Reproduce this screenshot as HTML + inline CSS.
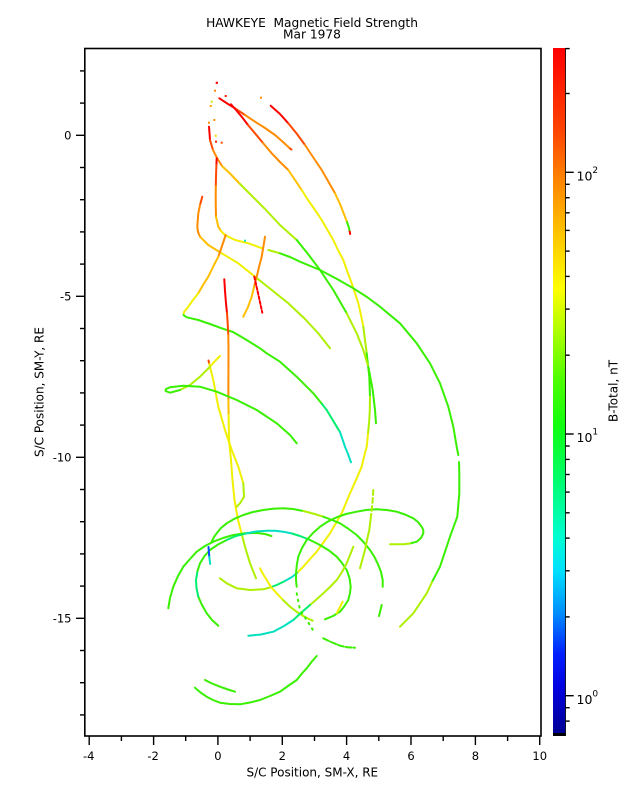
<!DOCTYPE html>
<html><head><meta charset="utf-8"><style>
html,body{margin:0;padding:0;background:#fff}
svg{display:block}
text{font-family:"DejaVu Sans","Liberation Sans",sans-serif;fill:#000}
polyline{fill:none;stroke-width:2.0;stroke-linejoin:round;stroke-linecap:round}
.R{stroke:#ff0000}.RO{stroke:#ff4800}.O{stroke:#ff8c00}.OY{stroke:#ffbe00}.Y{stroke:#f0f000}
.YG{stroke:#aef000}.G{stroke:#38f000}.GC{stroke:#00ee70}.C{stroke:#00e0c0}.B{stroke:#0050ff}
.ax{stroke:#000;stroke-width:1.6;fill:none}
.tk{stroke:#000;stroke-width:1.4}
</style></head><body>
<svg width="637" height="808" viewBox="0 0 637 808" xmlns="http://www.w3.org/2000/svg">
<defs>
<linearGradient id="cb" x1="0" y1="0" x2="0" y2="1">
<stop offset="0" stop-color="#ff0000"/>
<stop offset="0.12" stop-color="#ff4400"/>
<stop offset="0.18" stop-color="#ff7a00"/>
<stop offset="0.27" stop-color="#ffc400"/>
<stop offset="0.35" stop-color="#ffff00"/>
<stop offset="0.41" stop-color="#b0ff00"/>
<stop offset="0.48" stop-color="#50ff00"/>
<stop offset="0.55" stop-color="#10ff10"/>
<stop offset="0.63" stop-color="#00ff70"/>
<stop offset="0.71" stop-color="#00ffd0"/>
<stop offset="0.76" stop-color="#00e0ff"/>
<stop offset="0.82" stop-color="#0090ff"/>
<stop offset="0.88" stop-color="#0020ff"/>
<stop offset="0.93" stop-color="#0000e0"/>
<stop offset="1" stop-color="#000090"/>
</linearGradient>
</defs>

<!-- Title -->
<text x="312" y="27" font-size="12.2" text-anchor="middle">HAWKEYE&#160; Magnetic Field Strength</text>
<text x="312" y="38.5" font-size="12.2" text-anchor="middle">Mar 1978</text>

<!-- Curves -->
<!-- A -->
<polyline class="R" points="270.7,105.7 280,114 288.3,123.3"/>
<polyline class="RO" points="288.3,123.3 297,134 305,145"/>
<polyline class="O" points="305,145 313,157 321.7,170 328,181 335,193.3"/>
<polyline class="OY" points="335,193.3 340,204 345,216.7 347,222"/>
<polyline class="G" points="347,222 349,228 349.7,231.5"/>
<polyline class="R" points="349.7,231.5 350.2,234"/>
<!-- B -->
<polyline class="R" points="219.3,98.3 228,104 235,108.3"/>
<polyline class="RO" points="235,108.3 245,115"/>
<polyline class="O" points="245,115 255,121.7 265,128 275,135 283,142 290,148.5"/>
<polyline class="RO" points="290,148.5 291.5,149.5"/>
<!-- C -->
<polyline class="R" points="231,104.3 236,110 241.7,116.7 248,125"/>
<polyline class="RO" points="248,125 255,133.3 263,143"/>
<polyline class="O" points="263,143 271.7,153.3 280,162 288.3,170"/>
<polyline class="OY" points="288.3,170 295,180 301.7,190"/>
<polyline class="Y" points="301.7,190 308,200 315,210 321.7,220 328,231 333.3,240 338,250 343.3,260 347.5,272 351.7,283.3 355,293 358.3,303.3 361,315 363.3,326.7"/>
<polyline class="YG" points="363.3,326.7 365,340 366.7,353.3"/>
<polyline class="G" points="366.7,353.3 368,365 369.3,376.7 370,396.7"/>
<polyline class="YG" points="370,396.7 369.8,410 369.3,420 368,434"/>
<polyline class="Y" points="368,434 366.7,446.7 364,457 361.7,466.7 356.7,478.3 350,493.3 346,503 341.7,513.3 336,523 330,533.3 323,543 316.7,551.7 310,559 303.3,566.7 297,573"/>
<polyline class="C" points="297,573 292,577 284,581.5"/>
<polyline class="GC" points="284,581.5 276.7,585 270,587.5"/>
<polyline class="YG" points="270,587.5 263.3,589.3 250,590 236.7,588.3 226.7,583.3 220,578.3"/>
<!-- D -->
<polyline class="R" points="209,126.7 209.5,133 210,140"/>
<polyline class="RO" points="210,140 213,150"/>
<polyline class="O" points="213,150 217,158 222,166"/>
<polyline class="OY" points="222,166 230,173.5 240,184"/>
<polyline class="YG" points="240,184 250,194 265,209 280,225 296.7,240"/>
<polyline class="G" points="296.7,240 308,254 320,270 333.3,290 346.7,313.3"/>
<polyline class="YG" points="346.7,313.3 356.7,333.3 363.3,350 368.3,366.7"/>
<polyline class="G" points="368.3,366.7 372.7,390 375,410 376,423.3"/>
<!-- F -->
<polyline class="R" points="216.7,158.3 216.4,165"/>
<polyline class="RO" points="216.4,165 216,176.7 215.8,186"/>
<polyline class="O" points="215.8,186 215.7,196.7 215.8,207 216,216.7"/>
<polyline class="OY" points="216,216.7 218.3,226.7 221,231"/>
<polyline class="Y" points="221,231 225,235 235,240 248.3,243.3 262.3,248.3"/>
<!-- E -->
<polyline class="YG" points="268.3,250 280,253.3"/>
<polyline class="G" points="280,253.3 290,257 300,261.7 320,270 337,279 353.3,288.3 367,297 380,306.7 400,323.3 416.7,343.3 430,363.3 440,383.3 448.3,406.7 453.3,426.7 456.7,446.7 458.3,455"/>
<polyline class="G" points="459,462 459.3,473.3 459.3,493.3 457.3,516.7 450,536.7 440,566.7 432,582"/>
<polyline class="YG" points="432,582 426.7,593.3 413.3,613.3 400,626.7"/>
<!-- G -->
<polyline class="RO" points="202.3,196.7 200,205"/>
<polyline class="O" points="200,205 198.3,213.3 197.3,226.7 198,232 200,236.7"/>
<polyline class="OY" points="200,236.7 208.3,245 221.7,253.3"/>
<polyline class="Y" points="221.7,253.3 238.3,263.3 255,276.7"/>
<polyline class="YG" points="255,276.7 271.7,290 288,303 305,319 318,333 330,348.3"/>
<!-- H -->
<polyline class="O" points="225.7,235 222,246 218.3,256.7"/>
<polyline class="OY" points="218.3,256.7 213,267 208.3,276.7 203,285 198.3,293.3"/>
<polyline class="Y" points="198.3,293.3 193,300 188.3,306.7 184,312 183.5,315"/>
<polyline class="G" points="183.5,315 186.7,317.3 198.3,320 210,324 221.7,328.3 233,332 245,339 260,348.3 266.7,353.3 280,361.7 296.7,376.7 313.3,393.3 322,404"/>
<polyline class="GC" points="322,404 326.7,410 336.7,426.7 340,432"/>
<polyline class="C" points="340,432 345,446.7 348,454 351,462.3"/>
<!-- I -->
<polyline class="O" points="265,236.7 263.5,246 261.7,256.7 259,267 256.7,276.7 254,287"/>
<polyline class="OY" points="254,287 251.7,296.7 248,307 243.3,316.7"/>
<!-- J -->
<polyline class="R" stroke-dasharray="3 2" points="254.3,276.7 258,293 262.3,312.7"/>
<!-- K -->
<polyline class="R" points="224.3,279.3 225,291 226,303.3 227,313"/>
<polyline class="RO" points="227,313 227.7,323.3 228.3,335"/>
<polyline class="O" points="228.3,335 228.5,348.3 228.4,380 228.4,400"/>
<polyline class="OY" points="228.4,400 228.6,415"/>
<polyline class="Y" points="228.6,415 229,440 231,460 232.5,480 234.5,500 238,520 242,535"/>
<polyline class="YG" points="242,535 245,546.7 250,563.3 256,578.3"/>
<!-- L -->
<polyline class="RO" points="208.5,360.5 209.3,364"/>
<polyline class="Y" points="209.3,364 211,371 213.3,380 218.3,406.7 225,430 231.7,450 238.3,466.7 243.3,483.3"/>
<polyline class="YG" points="243.3,483.3 244,496.7 240,503.3 236.7,506.7"/>
<!-- M -->
<polyline class="Y" points="220,356 215,361 210,366.7"/>
<polyline class="YG" points="210,366.7 200,376.7 190,385 180,390"/>
<polyline class="G" points="180,390 170,392.7 165.5,391 166,389 170,387.3 183.3,385.7 200,386.7 216.7,391.7 236.7,400 256.7,410 276.7,423.3 290,435 296.7,443.3"/>
<!-- a -->
<polyline class="G" points="168.3,608.3 170,598 173.3,586.7 178,576 183.3,566.7 190,559 196.7,551.7 205,546 213.3,541.7 223,538 233.3,535 245,533.3 257,533 265,534 271.5,536"/>
<!-- b (beta) -->
<polyline class="G" points="218.3,625.7 212,620 206.7,613.3 202,605 198.3,596.7"/>
<polyline class="GC" points="198.3,596.7 196.5,588 196,580 197.5,571"/>
<polyline class="G" points="197.5,571 200,563.3 204.5,556 210,550 218,544.5 226.7,540"/>
<polyline class="GC" points="226.7,540 236,536 246.7,533.3"/>
<polyline class="C" points="246.7,533.3 256,531.5 266.7,530.7 275,530.7 283.3,531.7 292,533.5"/>
<polyline class="GC" points="292,533.5 300,536 310,540"/>
<polyline class="G" points="310,540 320,545 329,550.5 336.7,556.7 342,563 346.7,570 349.5,578 350.7,586.7 350,593 348.3,600 344.5,606 340,611.7 333,616 325,619.3"/>
<polyline class="B" points="208.5,547 209.3,557"/>
<polyline class="C" points="209.3,557 210.2,564"/>
<!-- c (alpha) -->
<polyline class="G" points="211.7,541.7 214,537 216.7,533.3 221,528 226.7,523.3 234,519 243.3,515 253,512 263.3,510 273,508.8 283.3,508.3 293,509 303.3,511"/>
<polyline class="YG" points="303.3,511 313,513.5 323.3,516.7"/>
<polyline class="G" points="323.3,516.7 332,520 340,523.3 348,528.5 356.7,535 363.5,542 370,550 374.5,557 378.3,565 381,572 382.7,580 382.7,586.7"/>
<polyline class="G" points="381.7,605 379,616"/>
<!-- d (gamma) -->
<polyline class="G" points="296.7,586.7 296,580 296,573.3 296.8,565 298.3,556.7 302,548 306.7,540 313,533 320,526.7 328,521.5 336.7,517.3 346,514 356.7,511.7 366,510 376.7,509.3 387,510 396.7,511.7 405,514.5 413.3,518.3 418,522 421.7,526.7 423.3,530 423.3,533.3 421,538 416.7,541.7 410,543.5"/>
<polyline class="YG" points="410,543.5 403.3,544.3 396,544.3 390,544.3"/>
<!-- f -->
<polyline class="Y" points="260,568.3 263,574 266.7,580 271,587 276.7,593.3 283,600"/>
<polyline class="YG" points="283,600 290,606.7 297,612 303.3,616 308,618.5 312.7,620.7"/>
<!-- g -->
<polyline class="YG" points="353.3,546.7 350,555 346.7,563.3 342,572 336.7,580 330,587 323.3,593.3 317,599 310,605"/>
<polyline class="GC" points="310,605 302,612 293.3,620"/>
<polyline class="C" points="293.3,620 284,626 273.3,631.7 261,634.5 248.3,635.7"/>
<!-- h -->
<polyline class="YG" stroke-dasharray="5 3" points="373.3,490 372.7,500 371.7,510 370.5,520"/>
<polyline class="YG" points="370.5,520 369.3,530 367,540 365,550 362.5,559 360,568.3"/>
<!-- i -->
<polyline class="Y" points="342.7,601.7 339.5,608 336.7,613.3"/>
<!-- k -->
<polyline class="G" stroke-dasharray="6 2" points="323.3,638.3 331,642 340,645.7 347,647.3 355,647.7"/>
<!-- l dotted -->
<polyline class="G" stroke-dasharray="1.5 5" points="296.7,593.3 300,610 306.7,620 315,633.3"/>
<!-- n -->
<polyline class="G" points="316.7,656 311.5,662 306.7,668.3 301.5,674 296.7,680 288,686 280,691.7 270,696 260,700 250,702.5 240,704.3 230,704 220,702.7 213,700 206.7,696.7 200.5,692.5 195,687.7"/>
<!-- o -->
<polyline class="G" points="205,680 212,683.5 220,686.7 228,689.5 235,691.7"/>

<!-- scattered dots near top -->
<rect x="215.7" y="81.7" width="2.2" height="2.2" fill="#ff0000"/>
<rect x="214" y="89.7" width="2" height="2" fill="#ff8c00"/>
<rect x="224.7" y="95" width="2" height="2" fill="#ff2000"/>
<rect x="260" y="96.7" width="2" height="2" fill="#ff8c00"/>
<rect x="210.7" y="100.7" width="2" height="2" fill="#c0f000"/>
<rect x="209.7" y="105" width="2" height="2" fill="#ffa000"/>
<rect x="213.3" y="119" width="2" height="2" fill="#ff9000"/>
<rect x="208" y="121.7" width="2" height="2" fill="#ff9000"/>
<rect x="214.7" y="134.7" width="2" height="2" fill="#ffd000"/>
<rect x="220.7" y="141.7" width="2" height="2" fill="#ff5000"/>
<rect x="215" y="140.7" width="2" height="2" fill="#ff2000"/>
<rect x="244" y="239.7" width="2" height="2" fill="#00e0c0"/>

<!-- Axes frame -->
<rect class="ax" x="84.8" y="48.5" width="456.2" height="687.5"/>

<!-- X ticks -->
<g class="tk">
<line x1="89.2" y1="736" x2="89.2" y2="745"/>
<line x1="153.6" y1="736" x2="153.6" y2="745"/>
<line x1="217.9" y1="736" x2="217.9" y2="745"/>
<line x1="282.3" y1="736" x2="282.3" y2="745"/>
<line x1="346.6" y1="736" x2="346.6" y2="745"/>
<line x1="411" y1="736" x2="411" y2="745"/>
<line x1="475.4" y1="736" x2="475.4" y2="745"/>
<line x1="539.7" y1="736" x2="539.7" y2="745"/>
<line x1="121.4" y1="736" x2="121.4" y2="741"/>
<line x1="185.7" y1="736" x2="185.7" y2="741"/>
<line x1="250.1" y1="736" x2="250.1" y2="741"/>
<line x1="314.5" y1="736" x2="314.5" y2="741"/>
<line x1="378.8" y1="736" x2="378.8" y2="741"/>
<line x1="443.2" y1="736" x2="443.2" y2="741"/>
<line x1="507.6" y1="736" x2="507.6" y2="741"/>
</g>
<g font-size="11.5" text-anchor="middle">
<text x="88.7" y="760">-4</text>
<text x="153.1" y="760">-2</text>
<text x="217.9" y="760">0</text>
<text x="282.3" y="760">2</text>
<text x="346.6" y="760">4</text>
<text x="411" y="760">6</text>
<text x="475.4" y="760">8</text>
<text x="539.7" y="760">10</text>
</g>
<text x="312.3" y="776.5" font-size="12" text-anchor="middle">S/C Position, SM-X, RE</text>

<!-- Y ticks -->
<g class="tk">
<line x1="76" y1="135.3" x2="84.8" y2="135.3"/>
<line x1="76" y1="296.3" x2="84.8" y2="296.3"/>
<line x1="76" y1="457.3" x2="84.8" y2="457.3"/>
<line x1="76" y1="618.3" x2="84.8" y2="618.3"/>
<line x1="80" y1="70.9" x2="84.8" y2="70.9"/>
<line x1="80" y1="103.1" x2="84.8" y2="103.1"/>
<line x1="80" y1="167.5" x2="84.8" y2="167.5"/>
<line x1="80" y1="199.7" x2="84.8" y2="199.7"/>
<line x1="80" y1="231.9" x2="84.8" y2="231.9"/>
<line x1="80" y1="264.1" x2="84.8" y2="264.1"/>
<line x1="80" y1="328.5" x2="84.8" y2="328.5"/>
<line x1="80" y1="360.7" x2="84.8" y2="360.7"/>
<line x1="80" y1="392.9" x2="84.8" y2="392.9"/>
<line x1="80" y1="425.1" x2="84.8" y2="425.1"/>
<line x1="80" y1="489.5" x2="84.8" y2="489.5"/>
<line x1="80" y1="521.7" x2="84.8" y2="521.7"/>
<line x1="80" y1="553.9" x2="84.8" y2="553.9"/>
<line x1="80" y1="586.1" x2="84.8" y2="586.1"/>
<line x1="80" y1="650.5" x2="84.8" y2="650.5"/>
<line x1="80" y1="682.7" x2="84.8" y2="682.7"/>
<line x1="80" y1="714.9" x2="84.8" y2="714.9"/>
</g>
<g font-size="11.5" text-anchor="end">
<text x="71.5" y="139.5">0</text>
<text x="71.5" y="300.5">-5</text>
<text x="71.5" y="461.5">-10</text>
<text x="71.5" y="622.5">-15</text>
</g>
<text transform="translate(43.5,392) rotate(-90)" font-size="12" text-anchor="middle">S/C Position, SM-Y, RE</text>

<!-- Colorbar -->
<rect x="553" y="48" width="12.3" height="688" fill="url(#cb)"/>
<rect x="553" y="733" width="12.3" height="3" fill="#000"/>
<line x1="565.6" y1="48" x2="565.6" y2="736" stroke="#000" stroke-width="0.8"/>
<g class="tk">
<line x1="565.3" y1="172.3" x2="573.7" y2="172.3"/>
<line x1="565.3" y1="434" x2="573.7" y2="434"/>
<line x1="565.3" y1="695.7" x2="573.7" y2="695.7"/>
<line x1="565.3" y1="48.6" x2="569.7" y2="48.6"/>
<line x1="565.3" y1="93.5" x2="569.7" y2="93.5"/>
<line x1="565.3" y1="184.3" x2="569.7" y2="184.3"/>
<line x1="565.3" y1="197.7" x2="569.7" y2="197.7"/>
<line x1="565.3" y1="212.8" x2="569.7" y2="212.8"/>
<line x1="565.3" y1="230.4" x2="569.7" y2="230.4"/>
<line x1="565.3" y1="251.1" x2="569.7" y2="251.1"/>
<line x1="565.3" y1="276.4" x2="569.7" y2="276.4"/>
<line x1="565.3" y1="309.1" x2="569.7" y2="309.1"/>
<line x1="565.3" y1="355.2" x2="569.7" y2="355.2"/>
<line x1="565.3" y1="446" x2="569.7" y2="446"/>
<line x1="565.3" y1="459.4" x2="569.7" y2="459.4"/>
<line x1="565.3" y1="474.5" x2="569.7" y2="474.5"/>
<line x1="565.3" y1="492.1" x2="569.7" y2="492.1"/>
<line x1="565.3" y1="512.8" x2="569.7" y2="512.8"/>
<line x1="565.3" y1="538.1" x2="569.7" y2="538.1"/>
<line x1="565.3" y1="570.8" x2="569.7" y2="570.8"/>
<line x1="565.3" y1="616.9" x2="569.7" y2="616.9"/>
<line x1="565.3" y1="707.7" x2="569.7" y2="707.7"/>
<line x1="565.3" y1="721.1" x2="569.7" y2="721.1"/>
</g>
<g font-size="12.5">
<text x="576.5" y="180.5">10<tspan font-size="9" dy="-7.5">2</tspan></text>
<text x="576.5" y="442.2">10<tspan font-size="9" dy="-7.5">1</tspan></text>
<text x="576.5" y="703.9">10<tspan font-size="9" dy="-7.5">0</tspan></text>
</g>
<text transform="translate(617.5,391) rotate(-90)" font-size="12" text-anchor="middle">B-Total, nT</text>
</svg>
</body></html>
